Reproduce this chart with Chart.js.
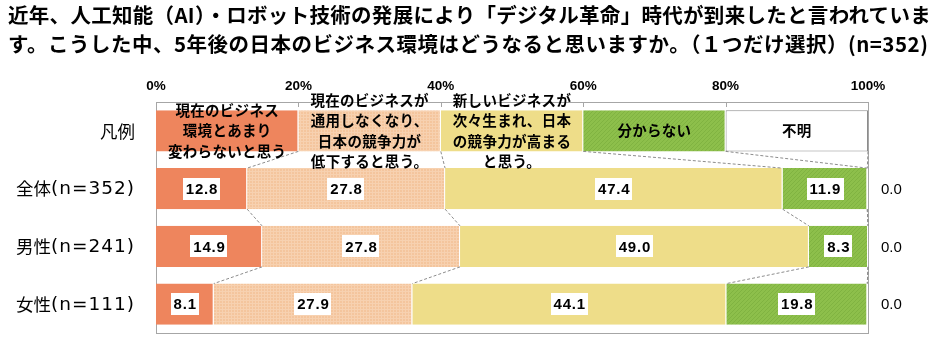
<!DOCTYPE html>
<html>
<head>
<meta charset="utf-8">
<script src="https://cdn.jsdelivr.net/npm/chart.js@4"></script>
<style>
  html, body { margin: 0; padding: 0; background: #fff; }
  #wrap { position: relative; width: 940px; height: 356px; overflow: hidden; }
  #title { position: absolute; left: 8px; top: 0px; font-family: "Noto Sans CJK JP", sans-serif; font-weight: bold; font-size: 20.5px; line-height: 29px; color: #000; white-space: nowrap; z-index: 2; }
  #title .l1 { letter-spacing: 0.3px; }
  #title .l2 { letter-spacing: 0.5px; }
  canvas { position: absolute; left: 0; top: 0; }
</style>
</head>
<body>
<div id="wrap">
  <div id="title"><span class="l1">近年、人工知能（AI）・ロボット技術の発展により「デジタル革命」時代が到来したと言われていま</span><br><span class="l2">す。こうした中、5年後の日本のビジネス環境はどうなると思いますか。（１つだけ選択）(n=352)</span></div>
  <canvas id="c" width="940" height="356"></canvas>
</div>
<script>
// ---- data ----
const categories = ["凡例", "全体(n=352)", "男性(n=241)", "女性(n=111)"];
const seriesNames = [
  ["現在のビジネス", "環境とあまり", "変わらないと思う"],
  ["現在のビジネスが", "通用しなくなり、", "日本の競争力が", "低下すると思う。"],
  ["新しいビジネスが", "次々生まれ、日本", "の競争力が高まる", "と思う。"],
  ["分からない"],
  ["不明"]
];
const legendShare = [20, 20, 20, 20, 20];
const unchanged = [12.8, 14.9, 8.1];
const declining = [27.8, 27.8, 27.9];
const rising = [47.4, 49.0, 44.1];
const unknown = [11.9, 8.3, 19.8];
const noAnswer = [0.0, 0.0, 0.0];
const xTicks = [0, 20, 40, 60, 80, 100];

function makePattern(base, dot, kind) {
  const p = document.createElement('canvas');
  const n = kind === 'grid' ? 3 : 4;
  p.width = n; p.height = n;
  const g = p.getContext('2d');
  g.fillStyle = base; g.fillRect(0, 0, n, n);
  g.fillStyle = dot;
  if (kind === 'grid') {
    g.fillRect(0, 0, n, 1); g.fillRect(0, 0, 1, n);
  } else {
    for (let i = 0; i < n; i++) g.fillRect(i, n - 1 - i, 1, 1);
  }
  return document.getElementById('c').getContext('2d').createPattern(p, 'repeat');
}

const colors = [
  '#EE855D',
  makePattern('#F4C59D', '#F7D1B0', 'grid'),
  '#EEDD89',
  makePattern('#8DBF4B', '#80B341', 'diag'),
  '#FFFFFF'
];
const seriesValues = [unchanged, declining, rising, unknown, noAnswer];

const datasets = seriesValues.map((vals, i) => ({
  label: seriesNames[i].join(''),
  data: [legendShare[i], ...vals],
  backgroundColor: colors[i],
  borderColor: i === 4 ? '#8C8C8C' : 'rgba(255,255,255,0.6)',
  borderWidth: (ctx) => {
    if (i === 4) return ctx.dataIndex === 0 ? 1 : 0;
    return {left: 0, top: 0, bottom: 0, right: 1};
  },
  borderSkipped: false,
  categoryPercentage: 1,
  barPercentage: 0.71
}));

const decor = {
  id: 'decor',
  beforeDatasetsDraw(chart) {
    const {ctx, chartArea: a, scales: {x}} = chart;
    ctx.save();
    ctx.strokeStyle = '#A6A6A6';
    ctx.lineWidth = 1;
    ctx.strokeRect(Math.round(a.left) + 0.5, Math.round(a.top) + 0.5, Math.round(a.right - a.left), Math.round(a.bottom - a.top));
    ctx.beginPath();
    xTicks.forEach(v => {
      const px = Math.round(x.getPixelForValue(v)) + 0.5;
      ctx.moveTo(px, a.top); ctx.lineTo(px, a.top + 5);
    });
    ctx.stroke();
    ctx.restore();
  },
  afterDatasetsDraw(chart) {
    const {ctx, chartArea: a, scales: {y}} = chart;
    const metas = chart.data.datasets.map((d, i) => chart.getDatasetMeta(i));
    ctx.save();
    // category labels (CJK part + Latin part)
    ctx.fillStyle = '#000';
    ctx.textBaseline = 'middle';
    ctx.textAlign = 'left';
    categories.forEach((lab, i) => {
      const yy = y.getPixelForValue(i);
      const cjk = lab.slice(0, 2), lat = lab.slice(2);
      ctx.font = '17.5px "Noto Sans CJK JP", sans-serif';
      ctx.letterSpacing = '0px';
      const w1 = ctx.measureText(cjk).width;
      ctx.font = '18.5px "DejaVu Sans", sans-serif';
      ctx.letterSpacing = '1px';
      const w2 = lat ? ctx.measureText(lat).width : 0;
      const right = a.left - 21;
      const x0 = right - w1 - w2;
      ctx.font = '17.5px "Noto Sans CJK JP", sans-serif';
      ctx.letterSpacing = '0px';
      ctx.fillText(cjk, x0, yy);
      if (lat) {
        ctx.font = '18.5px "DejaVu Sans", sans-serif';
        ctx.letterSpacing = '1px';
        ctx.fillText(lat, x0 + w1, yy + 1);
      }
    });
    ctx.letterSpacing = '0px';
    // connector lines
    ctx.strokeStyle = '#8C8C8C';
    ctx.lineWidth = 1;
    ctx.setLineDash([3, 2]);
    for (let r = 0; r < categories.length - 1; r++) {
      for (let s = 0; s < metas.length; s++) {
        const b1 = metas[s].data[r], b2 = metas[s].data[r + 1];
        ctx.beginPath();
        ctx.moveTo(b1.x, b1.y + b1.height / 2);
        ctx.lineTo(b2.x, b2.y - b2.height / 2);
        ctx.stroke();
      }
    }
    ctx.setLineDash([]);
    // legend row labels
    ctx.fillStyle = '#000';
    ctx.textAlign = 'center';
    ctx.textBaseline = 'middle';
    ctx.font = 'bold 14.5px "Noto Sans CJK JP", sans-serif';
    ctx.letterSpacing = '0.3px';
    metas.forEach((m, s) => {
      const b = m.data[0];
      const cx = b.base + (b.x - b.base) / 2;
      const lines = seriesNames[s];
      const lh = 20.5;
      const y0 = b.y - (lines.length - 1) * lh / 2;
      lines.forEach((t, k) => ctx.fillText(t, cx, y0 + k * lh));
    });
    ctx.letterSpacing = '0px';
    // value labels
    for (let r = 1; r < categories.length; r++) {
      metas.forEach((m, s) => {
        const b = m.data[r];
        const v = chart.data.datasets[s].data[r];
        const txt = v.toFixed(1);
        if (s === 4) {
          ctx.font = '15px "Liberation Sans", Arial, sans-serif';
          ctx.letterSpacing = '0px';
          ctx.textAlign = 'left';
          ctx.fillStyle = '#000';
          ctx.fillText(txt, a.right + 13, b.y + 1);
          return;
        }
        ctx.font = 'bold 15px "Liberation Sans", Arial, sans-serif';
        ctx.letterSpacing = '0.8px';
        const w = ctx.measureText(txt).width + 5;
        const cx = b.base + (b.x - b.base) / 2;
        ctx.fillStyle = '#fff';
        ctx.fillRect(Math.round(cx - w / 2), Math.round(b.y - 11), Math.round(w), 22);
        ctx.fillStyle = '#000';
        ctx.textAlign = 'center';
        ctx.fillText(txt, cx + 0.4, b.y + 1);
      });
    }
    ctx.restore();
  }
};

new Chart(document.getElementById('c'), {
  type: 'bar',
  data: { labels: categories, datasets },
  options: {
    indexAxis: 'y',
    responsive: false,
    animation: false,
    devicePixelRatio: 1,
    layout: { padding: { left: 0, right: 72, top: 0, bottom: 23 } },
    plugins: { legend: { display: false }, tooltip: { enabled: false }, title: { display: false } },
    scales: {
      x: {
        position: 'top', min: 0, max: 100, stacked: true,
        grid: { display: false, drawTicks: false },
        border: { display: false },
        ticks: { stepSize: 20, color: '#000', padding: 8,
          font: { family: '"Liberation Sans", Arial, sans-serif', size: 13.5, weight: 'bold' },
          callback: v => v + '%' },
        afterFit: s => { s.height = 102; }
      },
      y: {
        stacked: true,
        grid: { display: false, drawTicks: false },
        border: { display: false },
        ticks: { display: false },
        afterFit: s => { s.width = 156; }
      }
    }
  },
  plugins: [decor]
});
</script>
</body>
</html>
